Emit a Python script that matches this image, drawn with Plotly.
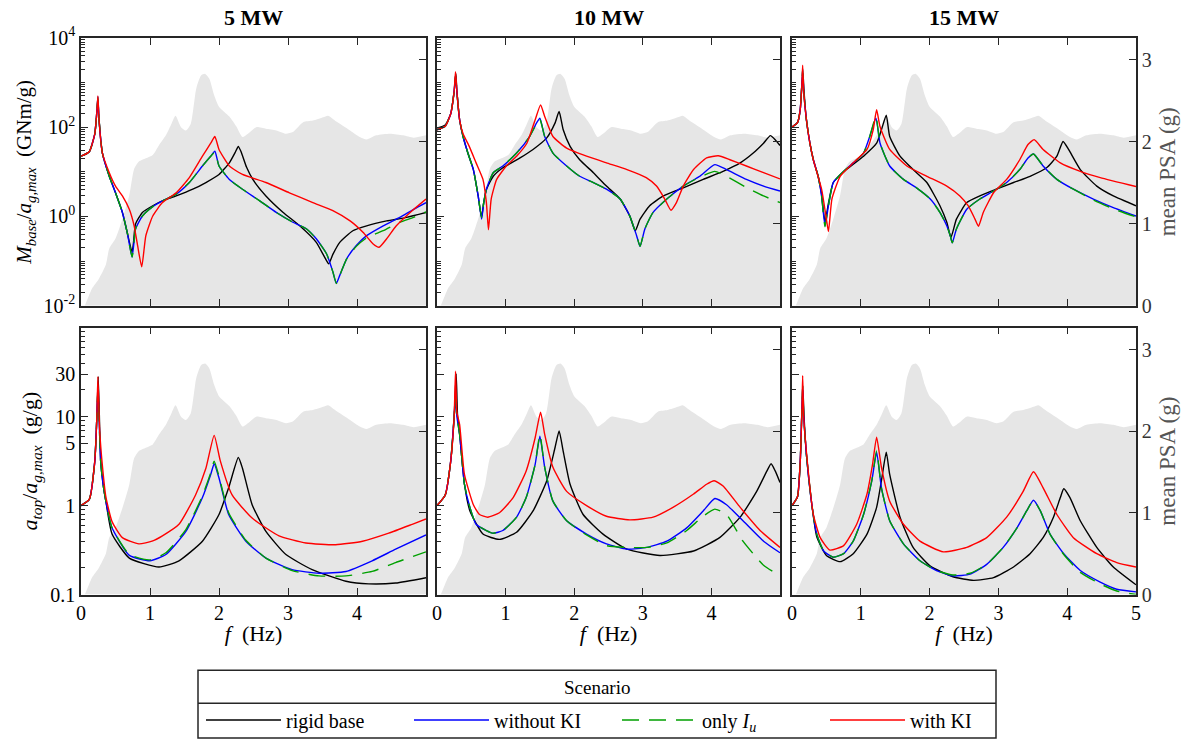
import plotly.graph_objects as go

# ---------------- data ----------------
# mean PSA spectrum (g), drawn as grey background on the right axis
PSA_F = [0.0, 0.05, 0.07, 0.16, 0.26, 0.36, 0.41, 0.50, 0.60, 0.70, 0.77, 0.84, 0.94, 1.04, 1.13, 1.23,
         1.30, 1.37, 1.45, 1.52, 1.59, 1.67, 1.74, 1.80, 1.86, 1.93, 2.00, 2.15, 2.25, 2.34, 2.42, 2.54,
         2.68, 2.83, 2.97, 3.07, 3.22, 3.36, 3.51, 3.58, 3.70, 3.90, 4.04, 4.14, 4.28, 4.48, 4.67, 4.82, 5.0]
PSA_G = [0.0, 0.0, 0.03, 0.21, 0.33, 0.50, 0.70, 0.82, 1.06, 1.35, 1.67, 1.76, 1.80, 1.84, 1.96, 2.08,
         2.20, 2.32, 2.18, 2.14, 2.22, 2.65, 2.81, 2.83, 2.77, 2.57, 2.43, 2.31, 2.19, 2.06, 2.10, 2.18,
         2.16, 2.14, 2.10, 2.12, 2.24, 2.26, 2.30, 2.32, 2.25, 2.14, 2.06, 2.03, 2.08, 2.10, 2.08, 2.05, 2.08]

# ---- top row: M_base / a_g,max (GNm/g), values given as log10 (decade) readings ----
# 5 MW
M5_RIGID_F = [0, 0.12, 0.20, 0.23, 0.245, 0.26, 0.31, 0.41, 0.50, 0.60, 0.67, 0.74, 0.76, 0.79, 0.89, 1.04, 1.18, 1.38, 1.62, 1.81,
              2.00, 2.15, 2.24, 2.28, 2.32, 2.40, 2.49, 2.68, 2.93, 3.17, 3.41, 3.53, 3.59, 3.65, 3.75, 3.94, 4.14, 4.43, 4.72, 5.00]
M5_RIGID_LOG = [1.35, 1.45, 1.85, 2.35, 2.62, 2.20, 1.42, 0.90, 0.53, 0.09, -0.36, -0.80, -0.60, -0.17, 0.09, 0.24, 0.35, 0.46, 0.61, 0.76,
                0.94, 1.20, 1.45, 1.57, 1.45, 1.10, 0.83, 0.46, 0.09, -0.21, -0.58, -0.91, -1.06, -0.85, -0.58, -0.32, -0.21, -0.10, -0.02, 0.09]
M5_WKI_F = [0, 0.12, 0.20, 0.23, 0.245, 0.26, 0.31, 0.41, 0.50, 0.60, 0.67, 0.74, 0.77, 0.79, 0.89, 1.04, 1.18, 1.38, 1.57, 1.76,
            1.88, 1.94, 2.00, 2.15, 2.34, 2.59, 2.83, 3.07, 3.27, 3.41, 3.56, 3.65, 3.70, 3.75, 3.85, 3.99, 4.14, 4.38, 4.62, 4.82, 5.00]
M5_WKI_LOG = [1.35, 1.45, 1.85, 2.35, 2.68, 2.20, 1.42, 0.90, 0.53, 0.09, -0.36, -0.91, -0.55, -0.28, 0.01, 0.22, 0.35, 0.50, 0.76, 1.13,
              1.35, 1.46, 1.13, 0.83, 0.61, 0.35, 0.09, -0.13, -0.28, -0.50, -0.84, -1.24, -1.50, -1.32, -0.95, -0.65, -0.43, -0.21, -0.02, 0.16, 0.31]
M5_IU_F = M5_WKI_F
M5_IU_LOG = [1.35, 1.45, 1.85, 2.35, 2.66, 2.20, 1.42, 0.90, 0.53, 0.09, -0.36, -0.91, -0.55, -0.28, 0.01, 0.22, 0.35, 0.50, 0.76, 1.13,
             1.35, 1.44, 1.13, 0.83, 0.61, 0.35, 0.09, -0.13, -0.28, -0.50, -0.84, -1.24, -1.50, -1.32, -0.95, -0.67, -0.48, -0.32, -0.13, -0.02, 0.10]
M5_KI_F = [0, 0.12, 0.20, 0.23, 0.245, 0.26, 0.31, 0.41, 0.50, 0.60, 0.70, 0.77, 0.82, 0.88, 0.94, 1.04, 1.18, 1.38, 1.57, 1.76,
           1.88, 1.94, 2.00, 2.15, 2.34, 2.68, 3.02, 3.36, 3.65, 3.90, 4.09, 4.23, 4.32, 4.43, 4.57, 4.77, 5.00]
M5_KI_LOG = [1.35, 1.45, 1.85, 2.35, 2.70, 2.20, 1.42, 0.98, 0.68, 0.46, 0.16, -0.21, -0.65, -1.13, -0.43, 0.01, 0.31, 0.53, 0.87, 1.35,
             1.64, 1.79, 1.50, 1.13, 0.94, 0.76, 0.53, 0.31, 0.13, -0.10, -0.36, -0.61, -0.69, -0.50, -0.21, 0.09, 0.39]
# 10 MW
M10_RIGID_F = [0, 0.12, 0.20, 0.25, 0.275, 0.29, 0.33, 0.38, 0.45, 0.53, 0.60, 0.65, 0.68, 0.72, 0.82, 0.96, 1.21, 1.40, 1.60, 1.72,
               1.78, 1.84, 1.94, 2.08, 2.28, 2.47, 2.67, 2.81, 2.89, 2.96, 3.10, 3.30, 3.59, 3.88, 4.17, 4.42, 4.61, 4.76, 4.86, 4.93, 5.00]
M10_RIGID_LOG = [1.98, 2.05, 2.30, 2.80, 3.20, 2.80, 2.16, 1.79, 1.42, 1.05, 0.46, -0.02, 0.30, 0.60, 0.90, 1.09, 1.31, 1.50, 1.76, 2.09,
                 2.35, 1.94, 1.57, 1.27, 0.98, 0.68, 0.39, 0.01, -0.32, -0.06, 0.24, 0.46, 0.64, 0.83, 1.01, 1.20, 1.42, 1.64, 1.81, 1.72, 1.59]
M10_WKI_F = [0, 0.12, 0.20, 0.25, 0.27, 0.29, 0.33, 0.38, 0.45, 0.53, 0.60, 0.65, 0.68, 0.72, 0.82, 0.96, 1.16, 1.35, 1.45, 1.50,
             1.57, 1.69, 1.89, 2.08, 2.28, 2.47, 2.67, 2.81, 2.91, 2.96, 3.03, 3.15, 3.35, 3.59, 3.83, 4.05, 4.22, 4.51, 4.76, 5.00]
M10_WKI_LOG = [1.94, 2.02, 2.30, 2.80, 3.15, 2.80, 2.16, 1.79, 1.42, 1.05, 0.46, -0.06, 0.30, 0.61, 0.98, 1.13, 1.42, 1.79, 2.09, 2.20,
               1.79, 1.42, 1.13, 0.90, 0.76, 0.61, 0.39, 0.01, -0.43, -0.67, -0.28, 0.09, 0.39, 0.68, 0.90, 1.16, 1.05, 0.83, 0.68, 0.57]
M10_IU_F = M10_WKI_F
M10_IU_LOG = [1.94, 2.02, 2.30, 2.80, 3.15, 2.80, 2.16, 1.79, 1.42, 1.05, 0.46, -0.02, 0.30, 0.61, 0.98, 1.13, 1.42, 1.79, 2.07, 2.17,
              1.79, 1.42, 1.13, 0.90, 0.76, 0.61, 0.39, 0.01, -0.43, -0.67, -0.28, 0.09, 0.39, 0.68, 0.88, 1.01, 0.90, 0.65, 0.46, 0.31]
M10_KI_F = [0, 0.12, 0.20, 0.25, 0.27, 0.29, 0.33, 0.38, 0.47, 0.57, 0.67, 0.72, 0.75, 0.79, 0.87, 1.01, 1.16, 1.31, 1.43, 1.51,
            1.57, 1.69, 1.89, 2.18, 2.47, 2.77, 3.05, 3.20, 3.32, 3.41, 3.49, 3.59, 3.74, 3.93, 4.10, 4.27, 4.51, 4.76, 5.00]
M10_KI_LOG = [1.94, 2.02, 2.30, 2.80, 3.24, 2.80, 2.16, 1.85, 1.57, 1.20, 0.83, 0.31, -0.30, 0.39, 0.83, 1.13, 1.35, 1.64, 2.16, 2.50,
              2.24, 1.79, 1.53, 1.35, 1.20, 1.05, 0.87, 0.68, 0.39, 0.14, 0.31, 0.68, 1.05, 1.31, 1.36, 1.27, 1.13, 0.98, 0.84]
# 15 MW
M15_RIGID_F = [0, 0.08, 0.12, 0.145, 0.16, 0.175, 0.21, 0.26, 0.31, 0.38, 0.43, 0.48, 0.53, 0.60, 0.79, 1.04, 1.23, 1.30, 1.37, 1.42,
               1.57, 1.76, 1.96, 2.15, 2.25, 2.31, 2.39, 2.54, 2.73, 2.97, 3.22, 3.46, 3.70, 3.85, 3.94, 4.02, 4.19, 4.43, 4.67, 5.00]
M15_RIGID_LOG = [2.00, 2.10, 2.40, 3.00, 3.20, 2.80, 2.16, 1.64, 1.27, 0.90, 0.50, -0.13, 0.30, 0.76, 1.05, 1.35, 1.64, 1.94, 2.27, 1.79,
                 1.35, 1.05, 0.76, 0.24, -0.13, -0.47, -0.06, 0.31, 0.46, 0.61, 0.76, 0.90, 1.09, 1.35, 1.68, 1.50, 1.05, 0.68, 0.46, 0.24]
M15_WKI_F = [0, 0.08, 0.12, 0.145, 0.155, 0.17, 0.21, 0.26, 0.31, 0.38, 0.43, 0.48, 0.53, 0.60, 0.75, 0.89, 1.04, 1.13, 1.22, 1.28,
             1.42, 1.62, 1.81, 2.01, 2.15, 2.25, 2.30, 2.33, 2.39, 2.54, 2.73, 2.93, 3.12, 3.31, 3.43, 3.51, 3.65, 3.85, 4.09, 4.38, 4.67, 5.00]
M15_WKI_LOG = [2.00, 2.10, 2.40, 3.00, 3.30, 2.80, 2.16, 1.64, 1.27, 0.90, 0.46, -0.21, 0.24, 0.76, 1.01, 1.20, 1.42, 1.79, 2.20, 1.64,
               1.13, 0.83, 0.64, 0.39, 0.09, -0.21, -0.43, -0.59, -0.28, 0.16, 0.39, 0.57, 0.76, 1.05, 1.31, 1.40, 1.13, 0.83, 0.61, 0.39, 0.20, 0.01]
M15_IU_F = M15_WKI_F
M15_IU_LOG = [2.00, 2.10, 2.40, 3.00, 3.30, 2.80, 2.16, 1.64, 1.27, 0.90, 0.46, -0.23, 0.24, 0.76, 1.01, 1.20, 1.42, 1.79, 2.24, 1.64,
              1.13, 0.83, 0.64, 0.39, 0.09, -0.21, -0.43, -0.59, -0.28, 0.16, 0.39, 0.57, 0.76, 1.05, 1.31, 1.40, 1.13, 0.83, 0.61, 0.37, 0.17, -0.01]
M15_KI_F = [0, 0.08, 0.12, 0.145, 0.155, 0.17, 0.21, 0.26, 0.31, 0.43, 0.50, 0.53, 0.58, 0.70, 0.89, 1.09, 1.18, 1.23, 1.28, 1.42,
            1.67, 1.96, 2.25, 2.44, 2.56, 2.66, 2.71, 2.78, 2.93, 3.12, 3.31, 3.43, 3.52, 3.65, 3.90, 4.19, 4.48, 5.00]
M15_KI_LOG = [2.00, 2.10, 2.40, 3.00, 3.39, 2.80, 2.16, 1.64, 1.27, 0.61, -0.06, -0.34, 0.39, 0.90, 1.20, 1.50, 1.94, 2.39, 2.01, 1.50,
              1.13, 0.90, 0.68, 0.46, 0.24, -0.06, -0.22, 0.09, 0.53, 0.83, 1.27, 1.61, 1.72, 1.50, 1.20, 1.01, 0.87, 0.67]

# ---- bottom row: a_top / a_g,max (g/g), log10 readings ----
# 5 MW
A5_RIGID_F = [0, 0.12, 0.20, 0.23, 0.25, 0.285, 0.32, 0.36, 0.45, 0.70, 1.13, 1.42, 1.76, 2.00, 2.14, 2.28, 2.34, 2.48, 2.68, 2.97,
              3.35, 3.84, 4.17, 4.56, 5.00]
A5_RIGID_LOG = [0.00, 0.07, 0.50, 1.00, 1.45, 0.50, 0.24, 0.05, -0.32, -0.59, -0.69, -0.62, -0.40, -0.10, 0.20, 0.54, 0.42, 0.01, -0.29, -0.55,
                -0.72, -0.85, -0.88, -0.87, -0.81]
A5_WKI_F = [0, 0.12, 0.20, 0.23, 0.245, 0.285, 0.32, 0.36, 0.45, 0.70, 1.00, 1.23, 1.52, 1.76, 1.88, 1.93, 2.00, 2.14, 2.39, 2.68,
            3.06, 3.45, 3.84, 4.22, 4.56, 5.00]
A5_WKI_LOG = [0.00, 0.07, 0.50, 1.00, 1.30, 0.50, 0.24, 0.05, -0.25, -0.56, -0.62, -0.55, -0.29, 0.09, 0.35, 0.47, 0.31, -0.10, -0.40, -0.59,
              -0.72, -0.76, -0.74, -0.62, -0.49, -0.33]
A5_IU_F = A5_WKI_F
A5_IU_LOG = [0.00, 0.07, 0.50, 1.00, 1.30, 0.50, 0.24, 0.05, -0.25, -0.55, -0.61, -0.53, -0.27, 0.11, 0.37, 0.50, 0.33, -0.08, -0.39, -0.59,
             -0.73, -0.79, -0.79, -0.74, -0.64, -0.52]
A5_KI_F = [0, 0.12, 0.20, 0.23, 0.245, 0.27, 0.31, 0.36, 0.45, 0.60, 0.84, 1.03, 1.18, 1.42, 1.66, 1.81, 1.93, 2.02, 2.19, 2.48,
           2.87, 3.26, 3.69, 4.08, 4.46, 4.80, 5.00]
A5_KI_LOG = [0.00, 0.07, 0.50, 1.00, 1.45, 0.85, 0.45, 0.10, -0.18, -0.36, -0.43, -0.40, -0.34, -0.21, 0.12, 0.42, 0.79, 0.50, 0.12, -0.14,
             -0.34, -0.42, -0.44, -0.40, -0.31, -0.21, -0.15]
# 10 MW
A10_RIGID_F = [0, 0.12, 0.20, 0.25, 0.28, 0.30, 0.33, 0.40, 0.48, 0.67, 0.91, 1.16, 1.40, 1.60, 1.72, 1.78, 1.84, 1.94, 2.13, 2.42,
               2.77, 3.25, 3.74, 4.12, 4.42, 4.66, 4.81, 4.87, 4.93, 5.00]
A10_RIGID_LOG = [0.00, 0.12, 0.50, 1.00, 1.48, 1.00, 0.80, 0.24, -0.06, -0.32, -0.38, -0.30, -0.06, 0.28, 0.65, 0.84, 0.61, 0.24, -0.10, -0.32,
                 -0.49, -0.56, -0.51, -0.36, -0.13, 0.16, 0.39, 0.47, 0.39, 0.26]
A10_WKI_F = [0, 0.12, 0.20, 0.25, 0.27, 0.29, 0.33, 0.40, 0.48, 0.57, 0.72, 0.82, 0.96, 1.16, 1.30, 1.43, 1.50, 1.57, 1.69, 1.89,
             2.18, 2.47, 2.77, 3.06, 3.35, 3.64, 3.88, 4.05, 4.22, 4.46, 4.76, 5.00]
A10_WKI_LOG = [0.00, 0.12, 0.50, 1.00, 1.20, 1.00, 0.80, 0.24, -0.02, -0.21, -0.28, -0.31, -0.28, -0.13, 0.09, 0.46, 0.78, 0.43, 0.05, -0.17,
               -0.32, -0.43, -0.49, -0.47, -0.40, -0.25, -0.06, 0.08, 0.01, -0.17, -0.40, -0.53]
A10_IU_F = A10_WKI_F
A10_IU_LOG = [0.00, 0.12, 0.50, 1.00, 1.20, 1.00, 0.80, 0.24, -0.02, -0.21, -0.28, -0.31, -0.28, -0.13, 0.09, 0.46, 0.80, 0.43, 0.05, -0.17,
              -0.33, -0.45, -0.47, -0.47, -0.42, -0.28, -0.12, -0.04, -0.10, -0.40, -0.67, -0.79]
A10_KI_F = [0, 0.12, 0.20, 0.25, 0.27, 0.29, 0.33, 0.40, 0.53, 0.62, 0.74, 0.91, 1.11, 1.30, 1.43, 1.51, 1.57, 1.69, 1.89, 2.18,
            2.47, 2.81, 3.15, 3.44, 3.74, 3.93, 4.04, 4.17, 4.42, 4.71, 5.00]
A10_KI_LOG = [0.00, 0.12, 0.50, 1.00, 1.51, 1.05, 0.91, 0.35, 0.01, -0.10, -0.13, -0.08, 0.09, 0.39, 0.76, 1.05, 0.80, 0.43, 0.16, 0.00,
              -0.12, -0.16, -0.13, -0.02, 0.13, 0.24, 0.28, 0.22, -0.02, -0.28, -0.47]
# 15 MW
A15_RIGID_F = [0, 0.08, 0.12, 0.145, 0.16, 0.175, 0.21, 0.29, 0.36, 0.50, 0.70, 0.89, 1.09, 1.23, 1.30, 1.37, 1.42, 1.57, 1.76, 2.01,
               2.34, 2.64, 2.93, 3.22, 3.46, 3.65, 3.80, 3.90, 3.95, 4.04, 4.19, 4.43, 4.67, 5.00]
A15_RIGID_LOG = [0.00, 0.10, 0.50, 1.10, 1.30, 1.00, 0.57, 0.00, -0.35, -0.56, -0.63, -0.54, -0.32, -0.02, 0.28, 0.60, 0.35, -0.13, -0.47, -0.68,
                 -0.80, -0.84, -0.81, -0.69, -0.54, -0.36, -0.13, 0.09, 0.19, 0.09, -0.17, -0.47, -0.69, -0.89]
A15_WKI_F = [0, 0.08, 0.12, 0.145, 0.155, 0.17, 0.21, 0.29, 0.36, 0.46, 0.60, 0.75, 0.89, 1.04, 1.16, 1.23, 1.30, 1.42, 1.62, 1.86,
             2.10, 2.34, 2.59, 2.83, 3.07, 3.27, 3.41, 3.51, 3.61, 3.75, 3.95, 4.19, 4.48, 4.72, 5.00]
A15_WKI_LOG = [0.00, 0.10, 0.50, 1.10, 1.35, 1.00, 0.57, 0.00, -0.32, -0.51, -0.58, -0.54, -0.40, -0.10, 0.28, 0.60, 0.20, -0.17, -0.43, -0.62,
               -0.73, -0.79, -0.77, -0.66, -0.47, -0.25, -0.06, 0.06, -0.06, -0.32, -0.54, -0.73, -0.86, -0.94, -0.97]
A15_IU_F = A15_WKI_F
A15_IU_LOG = [0.00, 0.10, 0.50, 1.10, 1.35, 1.00, 0.57, 0.00, -0.32, -0.51, -0.58, -0.54, -0.40, -0.10, 0.28, 0.62, 0.20, -0.17, -0.43, -0.62,
              -0.73, -0.78, -0.76, -0.66, -0.47, -0.25, -0.06, 0.06, -0.06, -0.32, -0.55, -0.75, -0.88, -0.96, -1.00]
A15_KI_F = [0, 0.08, 0.12, 0.145, 0.155, 0.17, 0.21, 0.31, 0.41, 0.55, 0.75, 0.94, 1.09, 1.17, 1.23, 1.30, 1.42, 1.62, 1.86, 2.20,
            2.54, 2.83, 3.12, 3.36, 3.51, 3.65, 3.85, 4.09, 4.43, 4.72, 5.00]
A15_KI_LOG = [0.00, 0.10, 0.50, 1.10, 1.46, 1.00, 0.60, -0.10, -0.36, -0.50, -0.45, -0.21, 0.13, 0.46, 0.77, 0.43, 0.05, -0.21, -0.40, -0.52,
              -0.47, -0.36, -0.13, 0.16, 0.38, 0.20, -0.10, -0.36, -0.54, -0.64, -0.69]

SCENARIOS = ["rigid base", "without KI", "only <i>I</i><sub><i>u</i></sub>", "with KI"]
TITLES = ["5 MW", "10 MW", "15 MW"]
PSA_TICKS = [0, 1, 2, 3]

PANELS = [
    [(M5_RIGID_F, M5_RIGID_LOG), (M5_WKI_F, M5_WKI_LOG), (M5_IU_F, M5_IU_LOG), (M5_KI_F, M5_KI_LOG)],
    [(M10_RIGID_F, M10_RIGID_LOG), (M10_WKI_F, M10_WKI_LOG), (M10_IU_F, M10_IU_LOG), (M10_KI_F, M10_KI_LOG)],
    [(M15_RIGID_F, M15_RIGID_LOG), (M15_WKI_F, M15_WKI_LOG), (M15_IU_F, M15_IU_LOG), (M15_KI_F, M15_KI_LOG)],
    [(A5_RIGID_F, A5_RIGID_LOG), (A5_WKI_F, A5_WKI_LOG), (A5_IU_F, A5_IU_LOG), (A5_KI_F, A5_KI_LOG)],
    [(A10_RIGID_F, A10_RIGID_LOG), (A10_WKI_F, A10_WKI_LOG), (A10_IU_F, A10_IU_LOG), (A10_KI_F, A10_KI_LOG)],
    [(A15_RIGID_F, A15_RIGID_LOG), (A15_WKI_F, A15_WKI_LOG), (A15_IU_F, A15_IU_LOG), (A15_KI_F, A15_KI_LOG)],
]
for panel in PANELS:
    for f, v in panel:
        assert len(f) == len(v), (len(f), len(v))

# ---------------- styling / layout ----------------
W, H = 1186, 740
SERIF = "Liberation Serif"
COLORS = ["#000000", "#0000ff", "#00a000", "#ff0000"]
DASHES = ["solid", "solid", "17px,10px", "solid"]
FRAME = "#262626"
FILL = "#e6e6e6"
COLS_PX = [(81, 426), (437, 780), (792, 1136)]
ROWS_PX = [(38, 307), (329, 597)]


def fx(p):
    return p / W


def fy(p):
    return 1 - p / H


def minor_vals(lo, hi, mults):
    return [m * 10 ** e for e in range(lo, hi) for m in mults]


fig = go.Figure()
layout = {}
tickfont = dict(family=SERIF, size=20, color="#000")

for r in range(2):
    for c in range(3):
        k = r * 3 + c + 1
        xname = "x" if k == 1 else f"x{k}"
        ybase = "y" if k == 1 else f"y{2 * k - 1}"
        ylog = f"y{2 * k}"
        xkey = "xaxis" if k == 1 else f"xaxis{k}"
        ybkey = "yaxis" if k == 1 else f"yaxis{2 * k - 1}"
        ylkey = f"yaxis{2 * k}"

        # grey PSA background
        fig.add_trace(go.Scatter(x=PSA_F, y=PSA_G, xaxis=xname, yaxis=ybase, mode="lines",
                                 line=dict(width=0, color=FILL, shape="spline", smoothing=0.6),
                                 fill="tozeroy", fillcolor=FILL, showlegend=False, hoverinfo="skip"))
        for s, (f, v) in enumerate(PANELS[k - 1]):
            fig.add_trace(go.Scatter(x=f, y=[10 ** e for e in v], xaxis=xname, yaxis=ylog, mode="lines",
                                     name=SCENARIOS[s], legendgroup=SCENARIOS[s], showlegend=(k == 1),
                                     line=dict(color=COLORS[s], width=1.4, dash=DASHES[s],
                                               shape="spline", smoothing=0.5)))

        x0, x1 = COLS_PX[c]
        yt, yb = ROWS_PX[r]
        xtv = [0, 1, 2, 3, 4, 5] if c == 2 else [0, 1, 2, 3, 4]
        xa = dict(domain=[fx(x0), fx(x1)], anchor=ybase, range=[0, 5], tickmode="array",
                  tickvals=xtv, ticktext=[str(t) for t in xtv], ticks="inside", ticklen=7, tickwidth=1.3,
                  tickcolor=FRAME, showline=True, linecolor=FRAME, linewidth=1.6, mirror="ticks",
                  showgrid=False, zeroline=False, tickfont=tickfont, automargin=False,
                  showticklabels=(r == 1))
        if r == 1:
            xa["title"] = dict(text="<i>f</i>  (Hz)", font=dict(family=SERIF, size=22), standoff=2)
        layout[xkey] = xa

        yb_ax = dict(domain=[fy(yb), fy(yt)], anchor=xname, side="right", range=[0, 3.27],
                     tickmode="array", tickvals=PSA_TICKS, ticktext=[str(t) for t in PSA_TICKS],
                     ticks="inside", ticklen=7, tickwidth=1.3,
                     tickcolor=FRAME, showline=True, linecolor=FRAME, linewidth=1.6, showgrid=False,
                     zeroline=False, showticklabels=(c == 2), automargin=False,
                     tickfont=dict(family=SERIF, size=20, color="#333"))
        if c == 2:
            yb_ax["title"] = dict(text="mean PSA (g)", font=dict(family=SERIF, size=23, color="#555"),
                                  standoff=8)
        layout[ybkey] = yb_ax

        if r == 0:
            lvals = [1e-2, 1, 100, 1e4]
            ltext = ["10<sup>-2</sup>", "10<sup>0</sup>", "10<sup>2</sup>", "10<sup>4</sup>"]
            lrange = [-2, 4]
            mvals = minor_vals(-2, 4, range(2, 10)) + [0.1, 10, 1000]
            ytitle = "<i>M</i><sub><i>base</i></sub>/<i>a</i><sub><i>g,max</i></sub>  (GNm/g)"
            tsize = 21
        else:
            lvals = [0.1, 1, 5, 10, 30]
            ltext = ["0.1", "1", "5", "10", "30"]
            lrange = [-1, 2]
            mvals = [v for v in minor_vals(-1, 2, range(2, 10)) if v not in (5, 30)]
            ytitle = "<i>a</i><sub><i>top</i></sub>/<i>a</i><sub><i>g,max</i></sub>  (g/g)"
            tsize = 22
        ya = dict(overlaying=ybase, anchor=xname, side="left", type="log", range=lrange,
                  tickmode="array", tickvals=lvals, ticktext=ltext, ticks="inside", ticklen=7,
                  tickwidth=1.3, tickcolor=FRAME,
                  minor=dict(tickmode="array", tickvals=mvals, ticks="inside", ticklen=4,
                             tickwidth=1, tickcolor=FRAME, showgrid=False),
                  showline=True, linecolor=FRAME, linewidth=1.6, showgrid=False, zeroline=False,
                  showticklabels=(c == 0), tickfont=tickfont, automargin=False)
        if c == 0:
            ya["title"] = dict(text=ytitle, font=dict(family=SERIF, size=tsize), standoff=6)
        layout[ylkey] = ya

annotations = []
for c, t in enumerate(TITLES):
    x0, x1 = COLS_PX[c]
    annotations.append(dict(text=f"<b>{t}</b>", x=fx((x0 + x1) / 2), y=fy(18), xref="paper", yref="paper",
                            showarrow=False, font=dict(family=SERIF, size=22, color="#000"),
                            xanchor="center", yanchor="middle"))
annotations.append(dict(text="Scenario", x=fx(597), y=fy(690), xref="paper", yref="paper", showarrow=False,
                        font=dict(family=SERIF, size=19, color="#000"), xanchor="center", yanchor="middle"))

shapes = [
    dict(type="rect", xref="paper", yref="paper", x0=fx(198), x1=fx(996), y0=fy(741), y1=fy(673),
         line=dict(color=FRAME, width=1.5), fillcolor="rgba(0,0,0,0)"),
    dict(type="line", xref="paper", yref="paper", x0=fx(198), x1=fx(996), y0=fy(706), y1=fy(706),
         line=dict(color=FRAME, width=1.5)),
]

fig.update_layout(
    width=W, height=H, autosize=False,
    margin=dict(l=0, r=0, t=0, b=0),
    paper_bgcolor="white", plot_bgcolor="rgba(0,0,0,0)",
    font=dict(family=SERIF, size=19, color="#000"),
    showlegend=True,
    legend=dict(orientation="h", x=fx(201), y=fy(723), xanchor="left", yanchor="middle",
                font=dict(family=SERIF, size=20, color="#000"), bgcolor="rgba(0,0,0,0)",
                itemwidth=75, entrywidth=118, entrywidthmode="pixels", traceorder="normal"),
    annotations=annotations,
    shapes=shapes,
    **layout,
)

fig.write_html("out.html")
